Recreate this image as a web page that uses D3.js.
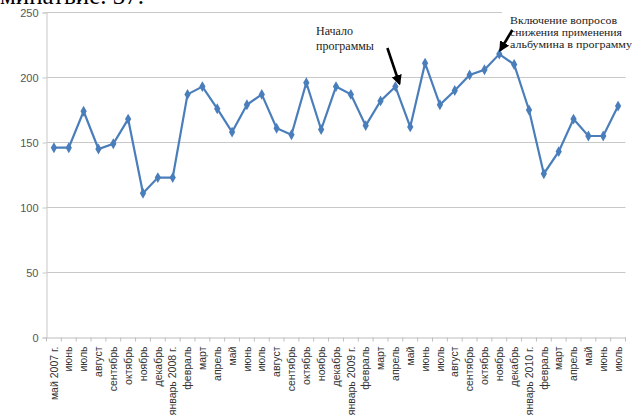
<!DOCTYPE html>
<html><head><meta charset="utf-8">
<script src="https://cdn.jsdelivr.net/npm/d3@7"></script>
<style>body{margin:0;background:#fff}svg{display:block}</style>
</head><body>
<svg id="c" width="637" height="419"></svg>
<script>
const categories = ["май 2007 г.","июнь","июль","август","сентябрь","октябрь","ноябрь","декабрь",
 "январь 2008 г.","февраль","март","апрель","май","июнь","июль","август","сентябрь","октябрь","ноябрь","декабрь",
 "январь 2009 г.","февраль","март","апрель","май","июнь","июль","август","сентябрь","октябрь","ноябрь","декабрь",
 "январь 2010 г.","февраль","март","апрель","май","июнь","июль"];
const values = [146,146,174,145,149,168,111,123,123,187,193,176,158,179,187,161,156,196,160,193,
 187,163,182,193,162,211,179,190,202,206,218,210,175,126,143,168,155,155,178];
const yTicks = [0,50,100,150,200,250];
const noteStart = ["Начало","программы"];
const noteAlb = ["Включение вопросов","снижения применения","альбумина в программу"];
const noteStartIdx = 23, noteAlbIdx = 30;
const caption = "минатвие. 37.";

const svg = d3.select("#c");
const m = {l:46.5, r:625.5, t:12.5, b:337.5};
const x = d3.scaleBand().domain(d3.range(categories.length)).range([m.l, m.r]);
const y = d3.scaleLinear().domain([0,250]).range([m.b, m.t]);

svg.append("text").attr("x",0).attr("y",4).attr("font-family","Liberation Serif")
  .attr("font-size",25).attr("fill","#000").text(caption);

// gridlines
svg.append("g").selectAll("line").data(yTicks.filter(d=>d>0)).join("line")
  .attr("x1",m.l).attr("x2",m.r).attr("y1",d=>y(d)).attr("y2",d=>y(d))
  .attr("stroke","#c8c8c8").attr("stroke-width",1);

// y axis
const ya = svg.append("g").attr("transform",`translate(${m.l},0)`)
  .call(d3.axisLeft(y).tickValues(yTicks).tickSize(4).tickPadding(4));
ya.select(".domain").attr("stroke","#c8c8c8");
ya.selectAll(".tick line").attr("stroke","#c8c8c8");
ya.selectAll("text").attr("font-family","Liberation Sans").attr("font-size",11).attr("fill","#555");

// x axis
const xa = svg.append("g").attr("transform",`translate(0,${m.b})`)
  .call(d3.axisBottom(x).tickFormat(i=>categories[i]).tickSize(0));
xa.select(".domain").attr("stroke","#bdbdbd");
xa.selectAll(".tick text").attr("font-family","Liberation Sans").attr("font-size",10.5).attr("fill","#333")
  .attr("transform","rotate(-90)").attr("text-anchor","end")
  .attr("x",-9).attr("y",0).attr("dy","0.35em");
svg.append("g").selectAll("line").data(d3.range(categories.length+1)).join("line")
  .attr("x1",i=>m.l+i*x.step()).attr("x2",i=>m.l+i*x.step())
  .attr("y1",m.b).attr("y2",m.b+4).attr("stroke","#bdbdbd");

// white box behind album note
svg.append("rect").attr("x",502).attr("y",8).attr("width",135).attr("height",12).attr("fill","#fff");

// line
const cx = i=>x(i)+x.bandwidth()/2;
svg.append("path").datum(values).attr("fill","none").attr("stroke","#4a7ebb").attr("stroke-width",2.2)
  .attr("d",d3.line().x((d,i)=>cx(i)).y(d=>y(d)));
svg.append("g").selectAll("path").data(values).join("path")
  .attr("d",d3.symbol(d3.symbolDiamond,34)).attr("fill","#4a7ebb")
  .attr("transform",(d,i)=>`translate(${cx(i)},${y(d)})`);

// annotations
svg.append("defs").append("marker").attr("id","ah").attr("viewBox","0 0 10 10").attr("refX",8).attr("refY",5)
  .attr("markerWidth",4).attr("markerHeight",4).attr("orient","auto")
  .append("path").attr("d","M0,0L10,5L0,10z").attr("fill","#000");
const t1 = svg.append("text").attr("font-family","Liberation Serif").attr("font-size",12).attr("fill","#222");
noteStart.forEach((s,k)=>t1.append("tspan").attr("x",316).attr("y",35+k*14.5).text(s));
const p1x = cx(noteStartIdx), p1y = y(values[noteStartIdx]);
svg.append("line").attr("x1",p1x-8).attr("y1",48).attr("x2",p1x+4).attr("y2",p1y-3)
  .attr("stroke","#000").attr("stroke-width",2.6).attr("marker-end","url(#ah)");
const t2 = svg.append("text").attr("font-family","Liberation Serif").attr("font-size",11).attr("fill","#222");
noteAlb.forEach((s,k)=>t2.append("tspan").attr("x",510).attr("y",24+k*12.2).attr("textLength",[107,112,122][k]).attr("lengthAdjust","spacingAndGlyphs").text(s));
const p2x = cx(noteAlbIdx), p2y = y(values[noteAlbIdx]);
svg.append("line").attr("x1",p2x+13).attr("y1",30).attr("x2",p2x+1).attr("y2",p2y-4)
  .attr("stroke","#000").attr("stroke-width",2.6).attr("marker-end","url(#ah)");
</script>
</body></html>
